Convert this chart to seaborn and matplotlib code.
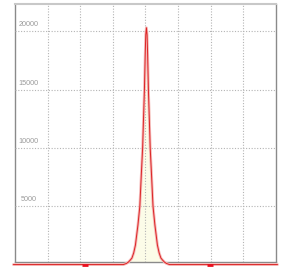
import matplotlib
matplotlib.use("Agg")
import matplotlib.pyplot as plt
import seaborn as sns
import pandas as pd

sns.set_theme(style="white")
plt.rcParams['font.family'] = ['Liberation Sans', 'DejaVu Sans']

# curve (x in grid units, y in counts)
curve_x = [-4.05, -0.675, -0.58, -0.522, -0.46, -0.414, -0.36, -0.307, -0.27, -0.23,
           -0.172, -0.13, -0.086, -0.059, -0.031, -0.007, 0.01, 0.03,
           0.05, 0.067, 0.091, 0.119, 0.146, 0.19, 0.232, 0.29, 0.33,
           0.367, 0.42, 0.474, 0.52, 0.582, 0.64, 0.735, 4.05]
curve_y = [0, 0, 100, 215, 400, 560, 1000, 1670, 2500, 3390,
           5000, 7500, 10000, 12500, 15000, 18000, 19700, 20300,
           19700, 18000, 15000, 12500, 10000, 7500, 5000, 3390, 2500,
           1670, 1000, 560, 400, 215, 100, 0, 0]

marker_x = [-1.85, 1.97]
ytick_vals = [5000, 10000, 15000, 20000]
ytick_labels = ["5000", "10000", "15000", "20000"]
xgrid_vals = [-3, -2, -1, 0, 1, 2, 3]

df = pd.DataFrame({"x": curve_x, "y": curve_y})

fig = plt.figure(figsize=(2.88, 2.68), dpi=100)
ax = fig.add_axes([0.052, 0.0224, 0.906, 0.9627])

ax.fill_between(df["x"], df["y"], 0, color="#fcfce8", zorder=1)
sns.lineplot(data=df, x="x", y="y", ax=ax, sort=False, estimator=None,
             color="#f5b8b8", lw=2.0, zorder=3, clip_on=False)
sns.lineplot(data=df, x="x", y="y", ax=ax, sort=False, estimator=None,
             color="#dc2424", lw=0.7, zorder=4, clip_on=False)
ax.plot(marker_x, [0] * len(marker_x), ls="none", marker="_", ms=3.8,
        mew=2.0, color="#ea1020", zorder=5, clip_on=False)

ax.set_xlim(-4, 4)
ax.set_ylim(220, 22340)
ax.set_xticks(xgrid_vals)
ax.set_yticks(ytick_vals)
ax.set_xticklabels([])
ax.set_yticklabels([])
ax.tick_params(length=0)
ax.set_xlabel("")
ax.set_ylabel("")
ax.grid(True, ls=(0, (1, 1.5)), color="#b4b4b4", lw=0.8, zorder=2)
ax.set_axisbelow(False)

for val, lab in zip(ytick_vals, ytick_labels):
    ax.annotate(lab, xy=(0.052, val), xycoords=("axes fraction", "data"),
                xytext=(0, 4.6), textcoords="offset points",
                ha="center", va="center", fontsize=5.2, color="#9a9a9a")

for side in ["left", "right", "bottom"]:
    ax.spines[side].set_color("#8a8a8a")
    ax.spines[side].set_linewidth(1.0)
ax.spines["top"].set_color("#c8c8c8")
ax.spines["top"].set_linewidth(1.5)

fig.savefig("out.png", dpi=100)
